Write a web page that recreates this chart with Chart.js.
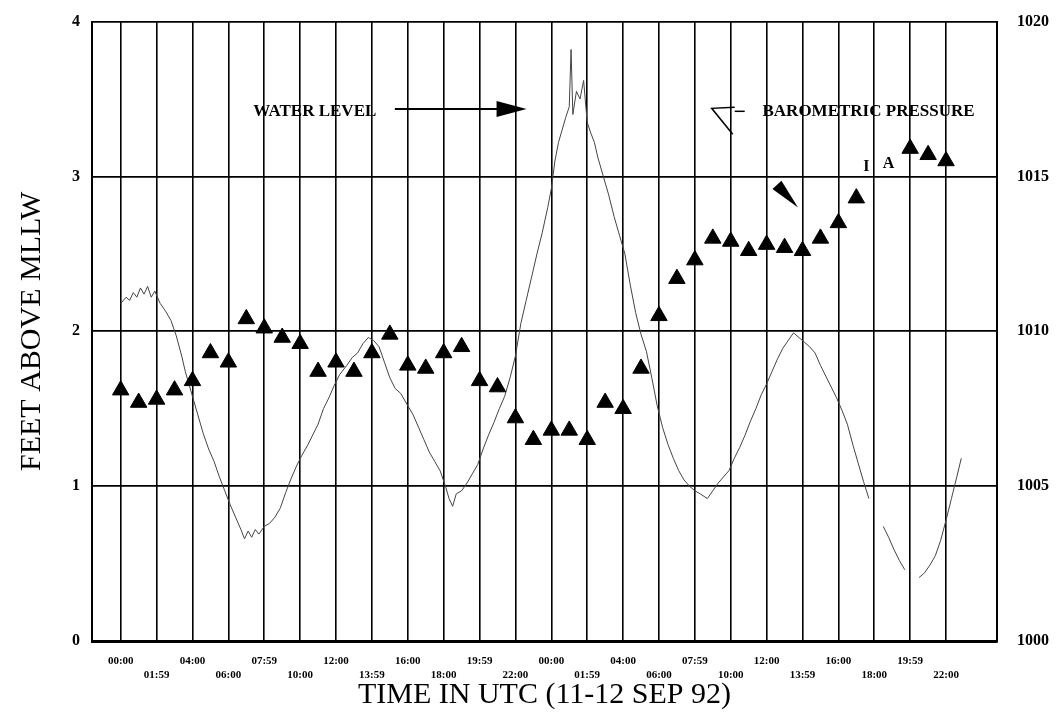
<!DOCTYPE html>
<html>
<head>
<meta charset="utf-8">
<title>Water level and barometric pressure, 11-12 Sep 92</title>
<script src="https://cdn.jsdelivr.net/npm/chart.js@4.4.0/dist/chart.umd.min.js"></script>
<style>
  html, body { margin: 0; padding: 0; background: #fff; }
  #wrap { width: 1056px; height: 715px; }
</style>
</head>
<body>
<div id="wrap"><canvas id="chart"></canvas></div>
<script>
// hodiny od 00:00 UTC 11 SEP 92
const tickHours = [0, 2, 4, 6, 8, 10, 12, 14, 16, 18, 20, 22,
  24, 26, 28, 30, 32, 34, 36, 38, 40, 42, 44, 46];
const tickLabels = ['00:00', '01:59', '04:00', '06:00', '07:59', '10:00', '12:00', '13:59',
  '16:00', '18:00', '19:59', '22:00', '00:00', '01:59', '04:00', '06:00', '07:59', '10:00',
  '12:00', '13:59', '16:00', '18:00', '19:59', '22:00'];

// vodni hladina (feet above MLLW), null = mezera v zaznamu
const waterHours = [0.0, 0.3, 0.5, 0.7, 0.9, 1.1, 1.3, 1.5, 1.7, 1.9, 2.2, 2.5, 2.8, 3.1, 3.4, 3.6,
  4.0, 4.3, 4.6, 4.9, 5.2, 5.5, 5.8, 6.1, 6.4, 6.7, 6.9, 7.1, 7.3, 7.5, 7.7, 8.0, 8.3, 8.6, 8.9,
  9.2, 9.5, 9.8, 10.1, 10.4, 10.7, 11.0, 11.3, 11.6, 11.9, 12.2, 12.6, 12.9, 13.2, 13.5, 13.8,
  14.1, 14.4, 14.7, 15.0, 15.3, 15.6, 16.0, 16.3, 16.6, 16.9, 17.2, 17.5, 17.8, 18.1, 18.3, 18.5,
  18.7, 19.0, 19.3, 19.6, 19.9, 20.2, 20.5, 20.8, 21.1, 21.4, 21.7, 22.0, 22.3, 22.6, 22.9, 23.2,
  23.5, 23.8, 24.0, 24.2, 24.4, 24.6, 24.8, 25.0, 25.1, 25.2, 25.4, 25.6, 25.8, 26.0, 26.2, 26.4,
  26.6, 26.9, 27.2, 27.5, 27.8, 28.1, 28.4, 28.7, 29.0, 29.3, 29.6, 29.9, 30.2, 30.5, 30.8, 31.1,
  31.4, 31.7, 32.0, 32.3, 32.7, 33.0, 33.3, 33.6, 33.9, 34.2, 34.5, 34.8, 35.1, 35.4, 35.7, 36.0,
  36.3, 36.6, 36.9, 37.2, 37.5, 37.8, 38.1, 38.4, 38.7, 39.0, 39.3, 39.6, 39.9, 40.2, 40.5, 40.8,
  41.1, 41.4, 41.7, 42.0, 42.5, 42.8, 43.1, 43.4, 43.7, 44.1, 44.5, 44.8, 45.1, 45.4, 45.7, 46.0,
  46.3, 46.6, 46.85];
const waterFeet = [2.18, 2.22, 2.20, 2.25, 2.22, 2.28, 2.24, 2.29, 2.22, 2.26, 2.18, 2.13, 2.07, 1.97, 1.84, 1.74,
  1.58, 1.46, 1.34, 1.24, 1.16, 1.06, 0.97, 0.88, 0.80, 0.72, 0.66, 0.71, 0.67, 0.72, 0.69, 0.74, 0.76, 0.80, 0.86,
  0.96, 1.05, 1.13, 1.20, 1.26, 1.33, 1.40, 1.50, 1.57, 1.65, 1.72, 1.78, 1.83, 1.86, 1.92, 1.96,
  1.94, 1.90, 1.80, 1.70, 1.63, 1.60, 1.52, 1.46, 1.38, 1.30, 1.22, 1.16, 1.10, 1.00, 0.92, 0.87,
  0.95, 0.97, 1.02, 1.08, 1.14, 1.24, 1.33, 1.41, 1.50, 1.58, 1.70, 1.84, 2.05, 2.20, 2.35, 2.50,
  2.64, 2.80, 2.92, 3.10, 3.22, 3.30, 3.38, 3.45, 3.82, 3.40, 3.55, 3.50, 3.62, 3.35, 3.28, 3.22,
  3.12, 3.00, 2.88, 2.74, 2.62, 2.50, 2.30, 2.12, 1.98, 1.87, 1.70, 1.52, 1.38, 1.27, 1.18, 1.10,
  1.04, 1.00, 0.97, 0.95, 0.92, 0.97, 1.02, 1.06, 1.10, 1.18, 1.25, 1.33, 1.42, 1.50, 1.59, 1.66,
  1.74, 1.82, 1.89, 1.94, 1.99, 1.96, 1.93, 1.90, 1.86, 1.78, 1.71, 1.64, 1.57, 1.49, 1.40, 1.27,
  1.15, 1.03, 0.92, null, 0.74, 0.67, 0.59, 0.52, 0.46, null, 0.41, 0.44, 0.49, 0.55, 0.65, 0.78,
  0.92, 1.06, 1.18];

// tlak (mb), po hodinach
const pressureHours = [0, 1, 2, 3, 4, 5, 6, 7, 8, 9, 10, 11, 12, 13, 14, 15, 16, 17, 18, 19, 20, 21, 22, 23,
  24, 25, 26, 27, 28, 29, 30, 31, 32, 33, 34, 35, 36, 37, 38, 39, 40, 41, 42, 43, 44, 45, 46];
const pressureMb = [1008.1, 1007.7, 1007.8, 1008.1, 1008.4, 1009.3, 1009.0, 1010.4, 1010.1, 1009.8, 1009.6, 1008.7,
  1009.0, 1008.7, 1009.3, 1009.9, 1008.9, 1008.8, 1009.3, 1009.5, 1008.4, 1008.2, 1007.2, 1006.5,
  1006.8, 1006.8, 1006.5, 1007.7, 1007.5, 1008.8, 1010.5, 1011.7, 1012.3, 1013.0, 1012.9, 1012.6,
  1012.8, 1012.7, 1012.6, 1013.0, 1013.5, 1014.3, null, null, 1015.9, 1015.7, 1015.5];

const serif = "'Liberation Serif', 'Times New Roman', serif";

// popisky v grafu (hodiny / feet)
const waterNote = { h: 10.82, f: 3.42, arrowFrom: 15.28, arrowTo: 22.62, arrowF: 3.435 };
const pressNote = { h: 41.68, f: 3.42, markH: 32.94, markF: 3.44, headH: 37.75, headF: 2.80 };

const notes = {
  id: 'notes',
  afterDatasetsDraw(chart) {
    const { ctx, scales: { x, y } } = chart;
    ctx.save();
    ctx.fillStyle = '#000';
    ctx.strokeStyle = '#000';
    ctx.font = 'bold 17px ' + serif;
    ctx.textAlign = 'center';
    ctx.textBaseline = 'middle';
    ctx.fillText('WATER LEVEL', x.getPixelForValue(waterNote.h), y.getPixelForValue(waterNote.f));
    ctx.fillText('BAROMETRIC PRESSURE', x.getPixelForValue(pressNote.h), y.getPixelForValue(pressNote.f));
    ctx.font = 'bold 16px ' + serif;
    ctx.fillText('I', x.getPixelForValue(41.56), y.getPixelForValue(3.06));
    ctx.fillText('A', x.getPixelForValue(42.8), y.getPixelForValue(3.08));

    // sipka k vodni hladine
    const ay = y.getPixelForValue(waterNote.arrowF);
    const a0 = x.getPixelForValue(waterNote.arrowFrom);
    const a1 = x.getPixelForValue(waterNote.arrowTo);
    ctx.lineWidth = 2;
    ctx.beginPath();
    ctx.moveTo(a0, ay);
    ctx.lineTo(a1 - 20, ay);
    ctx.stroke();
    ctx.beginPath();
    ctx.moveTo(a1 - 30, ay - 8);
    ctx.lineTo(a1, ay);
    ctx.lineTo(a1 - 30, ay + 8);
    ctx.closePath();
    ctx.fill();

    // znacka u tlaku
    const mx = x.getPixelForValue(pressNote.markH);
    const my = y.getPixelForValue(pressNote.markF);
    ctx.lineWidth = 1.5;
    ctx.beginPath();
    ctx.moveTo(mx + 23, my - 1);
    ctx.lineTo(mx, my);
    ctx.lineTo(mx + 21, my + 26);
    ctx.stroke();
    ctx.beginPath();
    ctx.moveTo(mx + 23, my + 3);
    ctx.lineTo(mx + 33, my + 3);
    ctx.stroke();

    const hx = x.getPixelForValue(pressNote.headH);
    const hy = y.getPixelForValue(pressNote.headF);
    ctx.beginPath();
    ctx.moveTo(hx, hy);
    ctx.lineTo(hx - 25.6, hy - 18.3);
    ctx.lineTo(hx - 16.6, hy - 26.7);
    ctx.closePath();
    ctx.fill();
    ctx.restore();
  }
};

new Chart(document.getElementById('chart'), {
  type: 'line',
  data: {
    datasets: [{
      label: 'Barometric pressure',
      data: pressureHours.map((h, i) => ({ x: h, y: pressureMb[i] })),
      yAxisID: 'p',
      showLine: false,
      pointStyle: 'triangle',
      pointRadius: 9.5,
      pointBackgroundColor: '#000',
      pointBorderColor: '#000',
      pointBorderWidth: 1,
      order: 0,
    }, {
      label: 'Water level',
      data: waterHours.map((h, i) => ({ x: h, y: waterFeet[i] })),
      yAxisID: 'y',
      borderColor: '#444',
      borderWidth: 1,
      pointRadius: 0,
      tension: 0,
      spanGaps: false,
      order: 1,
    }],
  },
  options: {
    responsive: true,
    maintainAspectRatio: false,
    animation: false,
    layout: { padding: { top: 18, left: 0, right: 0, bottom: 0 } },
    plugins: { legend: { display: false }, tooltip: { enabled: false } },
    scales: {
      x: {
        type: 'linear',
        min: -1.6,
        max: 48.84,
        afterBuildTicks: s => { s.ticks = tickHours.map(v => ({ value: v })); },
        afterFit: s => { s.height = 74; },
        grid: { color: '#000', lineWidth: 1.6, drawTicks: false },
        border: { color: '#000', width: 3 },
        ticks: {
          autoSkip: false,
          maxRotation: 0,
          padding: 14,
          color: '#000',
          font: { family: serif, size: 11, weight: 'bold', lineHeight: 1.2 },
          callback: (v, i) => (i % 2 ? ['', tickLabels[i]] : tickLabels[i]),
        },
        title: {
          display: true,
          text: 'TIME IN UTC (11-12 SEP 92)',
          color: '#000',
          font: { family: serif, size: 30 },
          padding: { top: 0, bottom: 2 },
        },
      },
      y: {
        position: 'left',
        min: 0,
        max: 4,
        afterFit: s => { s.width = 92; },
        grid: { color: '#000', lineWidth: 1.8, drawTicks: false },
        border: { color: '#000', width: 2 },
        ticks: {
          stepSize: 1,
          padding: 12,
          color: '#000',
          font: { family: serif, size: 16, weight: 'bold' },
        },
        title: {
          display: true,
          text: 'FEET ABOVE MLLW',
          color: '#000',
          font: { family: serif, size: 30 },
          padding: { top: 14, bottom: 0 },
        },
      },
      p: {
        position: 'right',
        min: 1000,
        max: 1020,
        afterFit: s => { s.width = 59; },
        grid: { display: false },
        border: { color: '#000', width: 2 },
        ticks: {
          stepSize: 5,
          padding: 12,
          color: '#000',
          font: { family: serif, size: 16, weight: 'bold' },
          callback: v => String(v),
        },
      },
    },
  },
  plugins: [notes],
});
</script>
</body>
</html>
